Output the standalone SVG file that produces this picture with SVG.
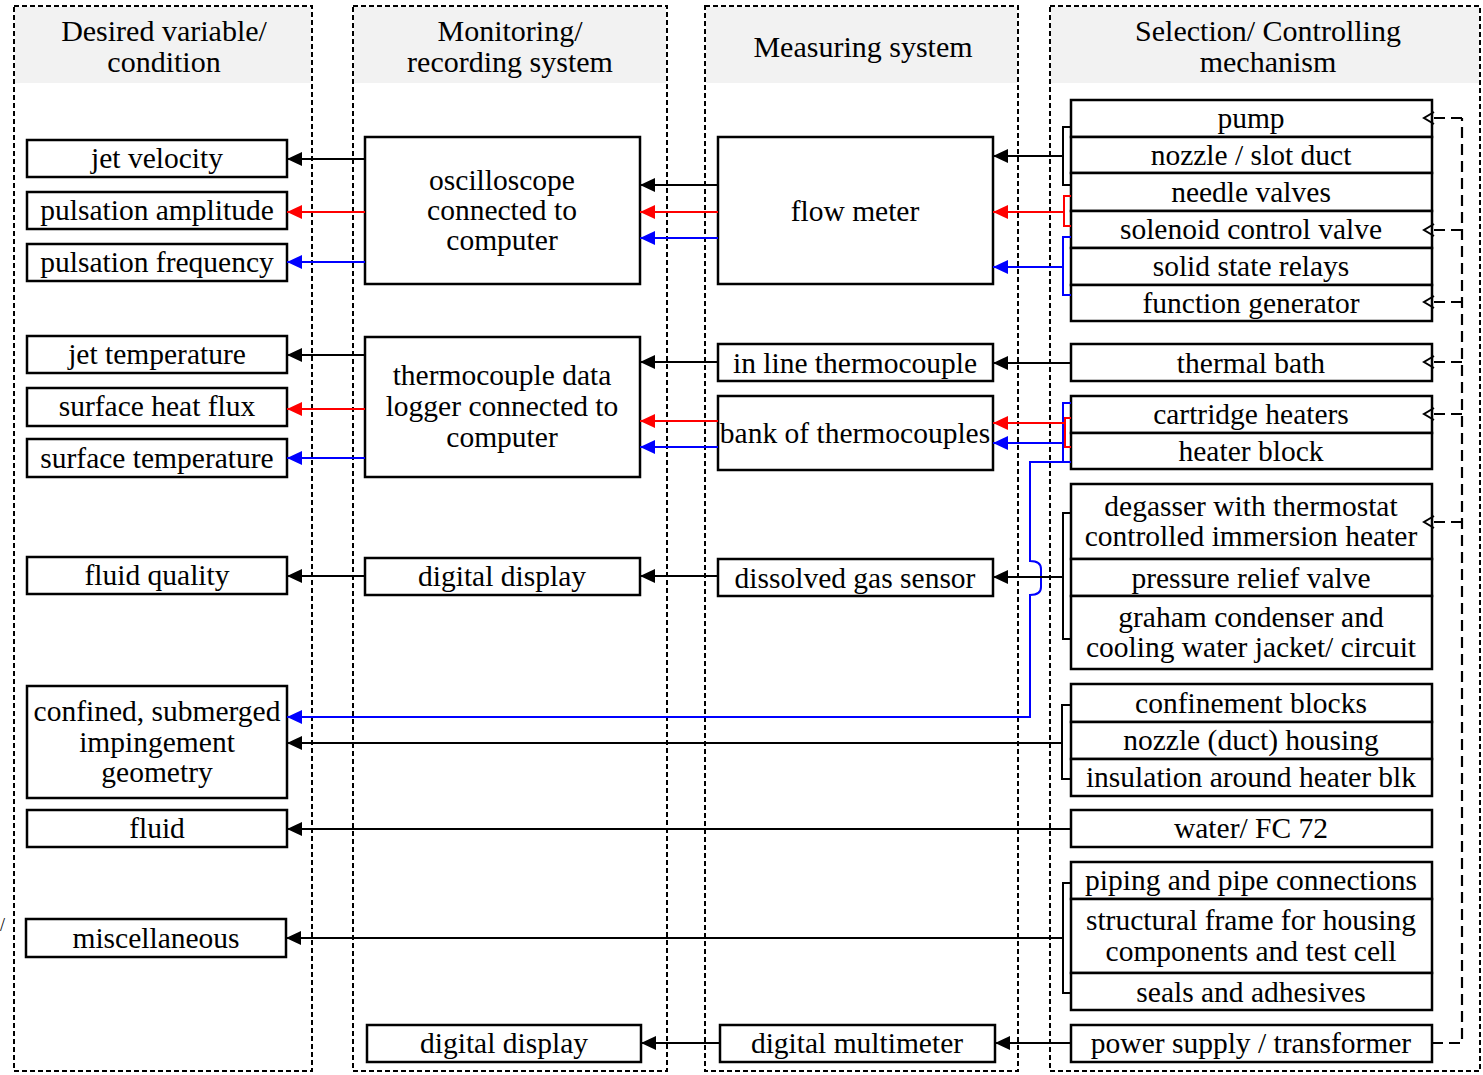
<svg xmlns="http://www.w3.org/2000/svg" width="1483" height="1075" viewBox="0 0 1483 1075">
  <defs>
    <style>
      .col { fill: none; stroke: #000; stroke-width: 2; stroke-dasharray: 5 3; }
      .hdr { fill: #f2f2f2; }
      .box { fill: #fff; stroke: #000; stroke-width: 2.5; }
      .t { font-family: "Liberation Serif", "Times New Roman", serif; font-size: 29.5px; text-anchor: middle; fill: #000; }
      .h { font-size: 30px; }
      .k { stroke: #000; stroke-width: 2; fill: none; }
      .r { stroke: #ff0000; stroke-width: 2; fill: none; }
      .b { stroke: #0000ff; stroke-width: 2; fill: none; }
      .fb { stroke: #000; stroke-width: 2.2; fill: none; stroke-dasharray: 11 6; }
    </style>
    <marker id="ak" markerUnits="userSpaceOnUse" markerWidth="16" markerHeight="14" refX="15" refY="7" orient="auto">
      <path d="M0,0 L15,7 L0,14 z" fill="#000"/>
    </marker>
    <marker id="ar" markerUnits="userSpaceOnUse" markerWidth="16" markerHeight="14" refX="15" refY="7" orient="auto">
      <path d="M0,0 L15,7 L0,14 z" fill="#ff0000"/>
    </marker>
    <marker id="ab" markerUnits="userSpaceOnUse" markerWidth="16" markerHeight="14" refX="15" refY="7" orient="auto">
      <path d="M0,0 L15,7 L0,14 z" fill="#0000ff"/>
    </marker>
    <marker id="ao" markerUnits="userSpaceOnUse" markerWidth="14" markerHeight="14" refX="2" refY="7" orient="auto">
      <path d="M2,1 L12,7 L2,13" fill="none" stroke="#000" stroke-width="2"/>
    </marker>
  </defs>

  <rect width="1483" height="1075" fill="#fff"/>

  <!-- column panels with grey headers -->
  <g id="columns">
    <rect class="hdr" x="15" y="7" width="296" height="76"/>
    <rect class="hdr" x="354" y="7" width="312" height="76"/>
    <rect class="hdr" x="706" y="7" width="311" height="76"/>
    <rect class="hdr" x="1051" y="7" width="428" height="76"/>
    <rect class="col" x="14" y="6" width="298" height="1065"/>
    <rect class="col" x="353" y="6" width="314" height="1065"/>
    <rect class="col" x="705" y="6" width="313" height="1065"/>
    <rect class="col" x="1050" y="6" width="430" height="1065"/>
    <text class="t h" x="164" y="41">Desired variable/</text>
    <text class="t h" x="164" y="72">condition</text>
    <text class="t h" x="510" y="41">Monitoring/</text>
    <text class="t h" x="510" y="72">recording system</text>
    <text class="t h" x="863" y="57">Measuring system</text>
    <text class="t h" x="1268" y="41">Selection/ Controlling</text>
    <text class="t h" x="1268" y="72">mechanism</text>
  </g>
  <text x="0" y="931" font-family="Liberation Serif, serif" font-size="18" fill="#000">/</text>

  <!-- desired variables -->
  <g id="jet-velocity"><rect class="box" x="27" y="140" width="260" height="37"/><text class="t" x="157" y="168">jet velocity</text></g>
  <g id="pulsation-amplitude"><rect class="box" x="27" y="192" width="260" height="37"/><text class="t" x="157" y="220">pulsation amplitude</text></g>
  <g id="pulsation-frequency"><rect class="box" x="27" y="244" width="260" height="37"/><text class="t" x="157" y="272">pulsation frequency</text></g>
  <g id="jet-temperature"><rect class="box" x="27" y="336" width="260" height="37"/><text class="t" x="157" y="364">jet temperature</text></g>
  <g id="surface-heat-flux"><rect class="box" x="27" y="388" width="260" height="38"/><text class="t" x="157" y="416">surface heat flux</text></g>
  <g id="surface-temperature"><rect class="box" x="27" y="439" width="260" height="38"/><text class="t" x="157" y="468">surface temperature</text></g>
  <g id="fluid-quality"><rect class="box" x="27" y="557" width="260" height="37"/><text class="t" x="157" y="585">fluid quality</text></g>
  <g id="geometry"><rect class="box" x="27" y="686" width="260" height="112"/>
    <text class="t" x="157" y="721">confined, submerged</text>
    <text class="t" x="157" y="752">impingement</text>
    <text class="t" x="157" y="782">geometry</text></g>
  <g id="fluid"><rect class="box" x="27" y="810" width="260" height="37"/><text class="t" x="157" y="838">fluid</text></g>
  <g id="miscellaneous"><rect class="box" x="26" y="919" width="260" height="38"/><text class="t" x="156" y="948">miscellaneous</text></g>

  <!-- monitoring / recording -->
  <g id="oscilloscope"><rect class="box" x="365" y="137" width="275" height="147"/>
    <text class="t" x="502" y="190">oscilloscope</text>
    <text class="t" x="502" y="220">connected to</text>
    <text class="t" x="502" y="250">computer</text></g>
  <g id="data-logger"><rect class="box" x="365" y="337" width="275" height="140"/>
    <text class="t" x="502" y="385">thermocouple data</text>
    <text class="t" x="502" y="416">logger connected to</text>
    <text class="t" x="502" y="447">computer</text></g>
  <g id="display-gas"><rect class="box" x="365" y="558" width="275" height="37"/><text class="t" x="502" y="586">digital display</text></g>
  <g id="display-power"><rect class="box" x="367" y="1025" width="274" height="37"/><text class="t" x="504" y="1053">digital display</text></g>

  <!-- measuring -->
  <g id="flow-meter"><rect class="box" x="718" y="137" width="275" height="147"/><text class="t" x="855" y="221">flow meter</text></g>
  <g id="inline-thermocouple"><rect class="box" x="718" y="344" width="275" height="37"/><text class="t" x="855" y="373">in line thermocouple</text></g>
  <g id="bank-thermocouples"><rect class="box" x="718" y="396" width="275" height="74"/><text class="t" x="855" y="443">bank of thermocouples</text></g>
  <g id="gas-sensor"><rect class="box" x="718" y="559" width="275" height="37"/><text class="t" x="855" y="588">dissolved gas sensor</text></g>
  <g id="multimeter"><rect class="box" x="720" y="1025" width="275" height="37"/><text class="t" x="857" y="1053">digital multimeter</text></g>

  <!-- selection / controlling -->
  <g id="pump"><rect class="box" x="1071" y="100" width="361" height="37"/><text class="t" x="1251" y="128">pump</text></g>
  <g id="nozzle-duct"><rect class="box" x="1071" y="137" width="361" height="36"/><text class="t" x="1251" y="165">nozzle / slot duct</text></g>
  <g id="needle-valves"><rect class="box" x="1071" y="173" width="361" height="38"/><text class="t" x="1251" y="202">needle valves</text></g>
  <g id="solenoid-valve"><rect class="box" x="1071" y="211" width="361" height="37"/><text class="t" x="1251" y="239">solenoid control valve</text></g>
  <g id="relays"><rect class="box" x="1071" y="248" width="361" height="37"/><text class="t" x="1251" y="276">solid state relays</text></g>
  <g id="function-generator"><rect class="box" x="1071" y="285" width="361" height="36"/><text class="t" x="1251" y="313">function generator</text></g>
  <g id="thermal-bath"><rect class="box" x="1071" y="344" width="361" height="37"/><text class="t" x="1251" y="373">thermal bath</text></g>
  <g id="cartridge-heaters"><rect class="box" x="1071" y="396" width="361" height="37"/><text class="t" x="1251" y="424">cartridge heaters</text></g>
  <g id="heater-block"><rect class="box" x="1071" y="433" width="361" height="36"/><text class="t" x="1251" y="461">heater block</text></g>
  <g id="degasser"><rect class="box" x="1071" y="484" width="361" height="75"/>
    <text class="t" x="1251" y="516">degasser with thermostat</text>
    <text class="t" x="1251" y="546">controlled immersion heater</text></g>
  <g id="relief-valve"><rect class="box" x="1071" y="559" width="361" height="37"/><text class="t" x="1251" y="588">pressure relief valve</text></g>
  <g id="condenser"><rect class="box" x="1071" y="596" width="361" height="73"/>
    <text class="t" x="1251" y="627">graham condenser and</text>
    <text class="t" x="1251" y="657">cooling water jacket/ circuit</text></g>
  <g id="confinement-blocks"><rect class="box" x="1071" y="684" width="361" height="38"/><text class="t" x="1251" y="713">confinement blocks</text></g>
  <g id="nozzle-housing"><rect class="box" x="1071" y="722" width="361" height="37"/><text class="t" x="1251" y="750">nozzle (duct) housing</text></g>
  <g id="insulation"><rect class="box" x="1071" y="759" width="361" height="37"/><text class="t" x="1251" y="787">insulation around heater blk</text></g>
  <g id="water-fc72"><rect class="box" x="1071" y="810" width="361" height="37"/><text class="t" x="1251" y="838">water/ FC 72</text></g>
  <g id="piping"><rect class="box" x="1071" y="862" width="361" height="37"/><text class="t" x="1251" y="890">piping and pipe connections</text></g>
  <g id="structural-frame"><rect class="box" x="1071" y="899" width="361" height="74"/>
    <text class="t" x="1251" y="930">structural frame for housing</text>
    <text class="t" x="1251" y="961">components and test cell</text></g>
  <g id="seals"><rect class="box" x="1071" y="973" width="361" height="37"/><text class="t" x="1251" y="1002">seals and adhesives</text></g>
  <g id="power-supply"><rect class="box" x="1071" y="1025" width="361" height="37"/><text class="t" x="1251" y="1053">power supply / transformer</text></g>

  <!-- connectors -->
  <g id="connectors">
    <!-- oscilloscope to desired variables -->
    <path class="k" d="M365,159 H287" marker-end="url(#ak)"/>
    <path class="r" d="M365,212 H287" marker-end="url(#ar)"/>
    <path class="b" d="M365,262 H287" marker-end="url(#ab)"/>
    <!-- flow meter to oscilloscope -->
    <path class="k" d="M718,185 H640" marker-end="url(#ak)"/>
    <path class="r" d="M718,212 H640" marker-end="url(#ar)"/>
    <path class="b" d="M718,238 H640" marker-end="url(#ab)"/>
    <!-- flow controls to flow meter -->
    <path class="k" d="M1071,127 H1063 V185 H1071"/>
    <path class="k" d="M1063,156 H993" marker-end="url(#ak)"/>
    <path class="r" d="M1071,196 H1064 V226 H1071"/>
    <path class="r" d="M1064,212 H993" marker-end="url(#ar)"/>
    <path class="b" d="M1071,237 H1063 V295 H1071"/>
    <path class="b" d="M1063,267 H993" marker-end="url(#ab)"/>

    <!-- data logger to desired variables -->
    <path class="k" d="M365,355 H287" marker-end="url(#ak)"/>
    <path class="r" d="M365,409 H287" marker-end="url(#ar)"/>
    <path class="b" d="M365,458 H287" marker-end="url(#ab)"/>
    <!-- thermocouples to data logger -->
    <path class="k" d="M718,362 H640" marker-end="url(#ak)"/>
    <path class="r" d="M718,421 H640" marker-end="url(#ar)"/>
    <path class="b" d="M718,447 H640" marker-end="url(#ab)"/>
    <!-- heating to thermocouples -->
    <path class="k" d="M1071,363 H993" marker-end="url(#ak)"/>
    <path class="b" d="M1071,403 H1063 V462 H1071"/>
    <path class="b" d="M1063,443 H993" marker-end="url(#ab)"/>
    <path class="r" d="M1071,418 H1065 V447 H1071"/>
    <path class="r" d="M1065,423 H993" marker-end="url(#ar)"/>
    <!-- heater block to geometry, hopping over the gas line -->
    <path class="b" d="M1071,462 H1030 V561 C1037,561 1041,563 1041,569 V587 C1041,593 1037,595 1030,595 V717 H287" marker-end="url(#ab)"/>

    <!-- fluid quality chain -->
    <path class="k" d="M365,576 H287" marker-end="url(#ak)"/>
    <path class="k" d="M718,576 H640" marker-end="url(#ak)"/>
    <path class="k" d="M1071,513 H1063 V639 H1071"/>
    <path class="k" d="M1063,577 H993" marker-end="url(#ak)"/>

    <!-- geometry, fluid, miscellaneous -->
    <path class="k" d="M1071,705 H1062 V779 H1071"/>
    <path class="k" d="M1062,743 H287" marker-end="url(#ak)"/>
    <path class="k" d="M1071,829 H287" marker-end="url(#ak)"/>
    <path class="k" d="M1071,883 H1063 V993 H1071"/>
    <path class="k" d="M1063,938 H286" marker-end="url(#ak)"/>

    <!-- power supply chain -->
    <path class="k" d="M1071,1043 H995" marker-end="url(#ak)"/>
    <path class="k" d="M720,1043 H641" marker-end="url(#ak)"/>

    <!-- power distribution (dashed) -->
    <path class="fb" d="M1432,1043 H1462 V118"/>
    <path class="fb" d="M1462,118 H1434" marker-end="url(#ao)"/>
    <path class="fb" d="M1462,230 H1434" marker-end="url(#ao)"/>
    <path class="fb" d="M1462,302 H1434" marker-end="url(#ao)"/>
    <path class="fb" d="M1462,362 H1434" marker-end="url(#ao)"/>
    <path class="fb" d="M1462,414 H1434" marker-end="url(#ao)"/>
    <path class="fb" d="M1462,522 H1434" marker-end="url(#ao)"/>
  </g>
</svg>
